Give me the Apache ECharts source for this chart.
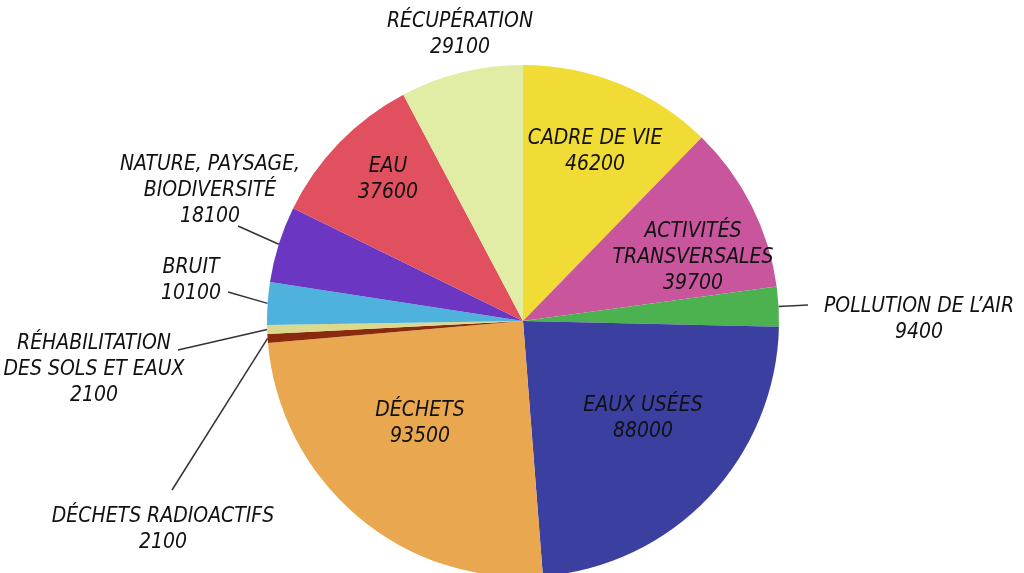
<!DOCTYPE html>
<html>
<head>
<meta charset="utf-8">
<script src="https://cdn.jsdelivr.net/npm/echarts@6/dist/echarts.min.js"></script>
<style>
html,body{margin:0;padding:0;background:#fff;}
#chart{width:1024px;height:573px;}
</style>
</head>
<body>
<div id="chart"></div>
<script>
// Data
var categories = [
  'CADRE DE VIE',
  'ACTIVITÉS\nTRANSVERSALES',
  'POLLUTION DE L\u2019AIR',
  'EAUX USÉES',
  'DÉCHETS',
  'DÉCHETS RADIOACTIFS',
  'RÉHABILITATION\nDES SOLS ET EAUX',
  'BRUIT',
  'NATURE, PAYSAGE,\nBIODIVERSITÉ',
  'EAU',
  'RÉCUPÉRATION'
];
var values = [46200, 39700, 9400, 88000, 93500, 2100, 2100, 10100, 18100, 37600, 29100];

// Styles (kept separate from data)
var colors = ['#f1dc36', '#c9559d', '#4cb14f', '#3b40a0', '#e9a84f', '#8a2a0c', '#dcd98c', '#4fb2dc', '#6a36c2', '#e0505f', '#e1eca4'];
var inside = [true, true, false, true, true, false, false, false, false, true, false];
var showLine = [false, false, true, false, false, true, true, true, true, false, false];
var labelPos = [
  [595, 152], [693, 258], [919, 320], [643, 419], [420, 424],
  [163, 530], [94, 370], [191, 281], [210, 191], [388, 180], [460, 35]
];
var lineEnd = [
  null, null, [808, 305], null, null,
  [172, 490], [178, 350], [228, 292], [238, 226], null, null
];

var chart = echarts.init(document.getElementById('chart'));
var font = "'Liberation Sans Narrow', 'DejaVu Sans Condensed', 'Arial Narrow', sans-serif";

var data = categories.map(function (name, i) {
  return {
    name: name,
    value: values[i],
    itemStyle: { color: colors[i] },
    label: { position: inside[i] ? 'inside' : 'outside' },
    labelLine: { show: showLine[i] }
  };
});

chart.setOption({
  animation: false,
  series: [{
    type: 'pie',
    center: [523, 321],
    radius: 256,
    startAngle: 90,
    clockwise: true,
    avoidLabelOverlap: false,
    data: data,
    itemStyle: { borderWidth: 0 },
    label: {
      show: true,
      formatter: '{b}\n{c}',
      color: '#111',
      fontFamily: font,
      fontStyle: 'italic',
      fontSize: 21,
      lineHeight: 26,
      align: 'center'
    },
    labelLine: {
      show: true,
      length: 20,
      length2: 20,
      smooth: false,
      lineStyle: { color: '#333', width: 1.5 }
    },
    labelLayout: function (params) {
      var i = params.dataIndex;
      var p = labelPos[i];
      var res = { x: p[0], y: p[1], align: 'center', verticalAlign: 'middle' };
      if (lineEnd[i] && params.labelLinePoints) {
        var s = params.labelLinePoints[0];
        res.labelLinePoints = [[s[0], s[1]], lineEnd[i], lineEnd[i]];
      }
      return res;
    },
    emphasis: { disabled: true }
  }]
});
</script>
</body>
</html>
